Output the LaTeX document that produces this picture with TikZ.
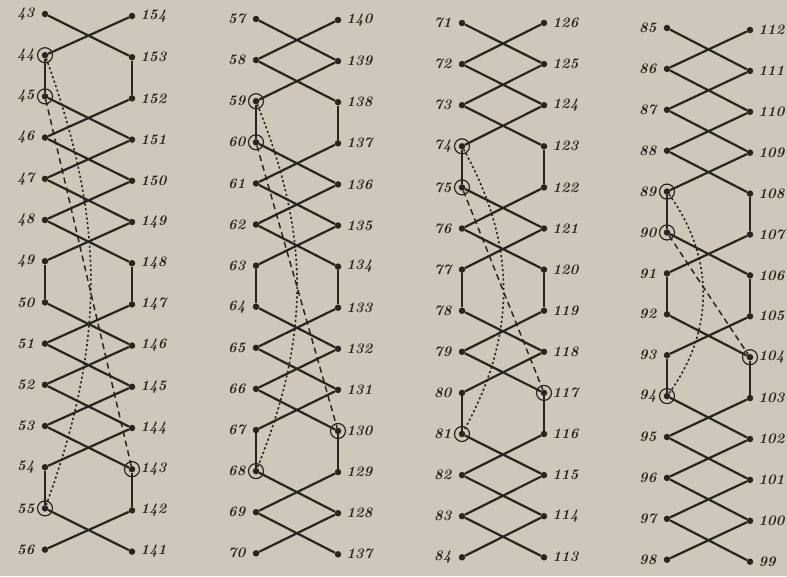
\documentclass[tikz,border=0pt]{standalone}
\usepackage{tikz}
\definecolor{paper}{RGB}{207,200,186}
\definecolor{ink}{RGB}{40,36,32}

\begin{document}
\begin{tikzpicture}[x=1pt,y=-1pt,
  dot/.style={circle,fill=ink,inner sep=0pt,minimum size=6.5pt},
  ring/.style={circle,draw=ink,line width=1.2pt,inner sep=0pt,minimum size=15pt},
  lbl/.style={text=ink,font=\fontsize{14.5}{15}\selectfont\bfseries\itshape,inner sep=1pt},
  strand/.style={draw=ink,line width=2.2pt},
  dotline/.style={draw=ink,line width=1.6pt,dash pattern=on 2.2pt off 2.5pt},
  dashline/.style={draw=ink,line width=1.5pt,dash pattern=on 6pt off 4pt}]
  \fill[paper] (0,0) rectangle (787,576);
  \useasboundingbox (0,0) rectangle (787,576);
  \foreach \c/\xl/\xr/\yl/\yr/\d/\n/\m in {1/45/132/14/16/41.2/43/154,
      2/256/338/19/20/41.1/57/140, 3/462/544/23/23/41.1/71/126,
      4/667/750/28/30/40.9/85/112}{
    \foreach \i in {1,...,14}{
      \pgfmathtruncatemacro\nn{\n+\i-1}
      \pgfmathtruncatemacro\mm{\m-\i+1}
      \ifnum\mm=127 \def\mm{137}\fi
      \node[dot,label={[lbl,label distance=6pt]left:\nn}] (l\c-\i) at (\xl,{\yl+\d*(\i-1)}) {};
      \node[dot,label={[lbl,label distance=4pt]right:\mm}] (r\c-\i) at (\xr,{\yr+\d*(\i-1)}) {};
    }
  }
  \foreach \c/\va/\vb/\vc/\bend in {1/2/7/12/20, 2/3/7/11/22, 3/4/7/10/29, 4/5/7/9/36}{
    \foreach \i in {1,...,13}{
      \pgfmathtruncatemacro\j{\i+1}
      \pgfmathtruncatemacro\isv{(\i==\va)||(\i==\vb)||(\i==\vc)}
      \ifnum\isv=1
        \draw[strand] (l\c-\i) -- (l\c-\j) (r\c-\i) -- (r\c-\j);
      \else
        \draw[strand] (l\c-\i) -- (r\c-\j) (r\c-\i) -- (l\c-\j);
      \fi
    }
    \pgfmathtruncatemacro\vd{\va+1}
    \pgfmathtruncatemacro\ve{\vc+1}
    \node[ring] (o\c-a) at (l\c-\va) {};
    \node[ring] (o\c-b) at (l\c-\vd) {};
    \node[ring] (o\c-c) at (l\c-\ve) {};
    \node[ring] (o\c-d) at (r\c-\vc) {};
    \draw[dotline] (l\c-\va) to[bend left=\bend] (l\c-\ve);
    \draw[dashline] (l\c-\vd) -- (r\c-\vc);
  }
\end{tikzpicture}
\end{document}
